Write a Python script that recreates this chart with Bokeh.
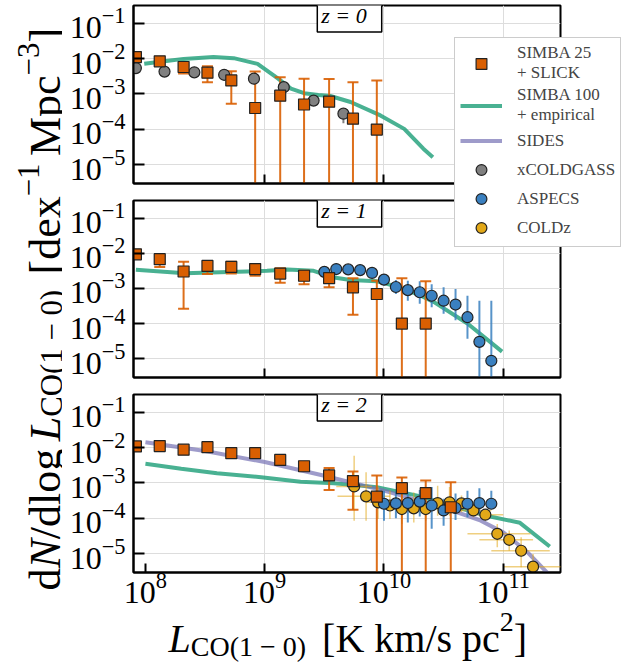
import math
from bokeh.plotting import figure
from bokeh.layouts import column, row
from bokeh.models import (Range1d, FixedTicker, Legend, LegendItem, Label, ColumnDataSource,
                          CustomJSTickFormatter)
from bokeh.core.properties import value
from bokeh.embed import file_html
from bokeh.resources import INLINE

SERIF = "Liberation Serif"

# ------------------------------------------------------------------
# Data (log10 values)
# None in a "lo" list = error bar reaching zero; None in "hi" = no bar
# ------------------------------------------------------------------
Y_TICK_EXP = [-5, -4, -3, -2, -1]
X_TICK_EXP = [8, 9, 10, 11]
PANEL_TITLES = ["z = 0", "z = 1", "z = 2"]

# SIMBA 25 + SLICK (squares)
s25_logL = [7.92, 8.12, 8.32, 8.52, 8.72, 8.92, 9.13, 9.33, 9.54, 9.74, 9.94, 10.15, 10.35, 10.56]
s25_z0 = [-1.96, -2.08, -2.24, -2.40, -2.62, -3.40, -3.05, -3.30, -3.22, -3.70, -4.01]
s25_z0_hi = [None, None, -2.20, -2.22, -2.36, -2.37, -2.53, -2.57, -2.58, -2.67, -2.62]
s25_z0_lo = [None, None, -2.42, -2.67, -3.28, None, None, None, None, None, None]
s25_z1 = [-2.03, -2.17, -2.52, -2.36, -2.39, -2.45, -2.58, -2.64, -2.71, -2.97, -3.16, -4.00, -4.00]
s25_z1_hi = [None, -2.09, -2.24, -2.22, -2.24, -2.33, -2.43, -2.50, -2.58, -2.71, -2.78, -2.71, -2.80]
s25_z1_lo = [None, -2.39, -3.58, -2.59, -2.58, -2.64, -2.84, -2.88, -2.97, -3.75, None, None, None]
s25_z2 = [-1.97, -1.96, -2.06, -1.99, -2.16, -2.16, -2.35, -2.53, -2.79, -2.95, -3.39, -3.15, -3.29, -3.69]
s25_z2_hi = [None, None, None, None, None, None, None, None, -2.58, -2.68, -2.79, -2.85, -2.93, -2.98]
s25_z2_lo = [None, None, None, None, None, None, None, None, -3.20, -3.76, None, None, None, None]

# SIMBA 100 + empirical (green line)
g_z0_logL = [7.99, 8.16, 8.32, 8.57, 8.74, 8.94, 9.11, 9.22, 9.33, 9.45, 9.55, 9.72, 9.97, 10.17, 10.33, 10.41]
g_z0 = [-2.15, -2.08, -2.01, -1.96, -1.99, -2.15, -2.56, -2.85, -2.98, -3.03, -3.06, -3.23, -3.61, -3.99, -4.55, -4.79]
g_z1_logL = [7.92, 8.33, 8.55, 9.02, 9.19, 9.41, 9.58, 9.72, 9.94, 10.08, 10.28, 10.42, 10.70, 10.99]
g_z1 = [-2.47, -2.57, -2.55, -2.50, -2.46, -2.50, -2.69, -2.76, -2.80, -2.92, -3.16, -3.39, -4.00, -4.80]
g_z2_logL = [8.00, 8.30, 8.60, 8.97, 9.30, 9.58, 9.94, 10.28, 10.56, 10.86, 11.14, 11.39]
g_z2 = [-2.46, -2.60, -2.73, -2.84, -2.97, -3.01, -3.12, -3.36, -3.64, -3.93, -4.13, -4.80]

# SIDES (purple line, z=2)
sides_logL = [8.0, 8.5, 9.0, 9.5, 10.0, 10.5, 10.8, 11.0, 11.2, 11.4]
sides_z2 = [-1.85, -2.10, -2.41, -2.80, -3.22, -3.70, -4.05, -4.40, -4.95, -5.65]

# xCOLDGASS (grey, z=0)
xcg_logL = [7.92, 8.16, 8.41, 8.66, 8.91, 9.16, 9.41, 9.66]
xcg_z0 = [-2.27, -2.37, -2.39, -2.46, -2.57, -2.81, -3.19, -3.56]
xcg_hi = [None, None, None, None, None, None, None, -3.48]
xcg_lo = [None, None, None, None, None, None, None, -3.83]

# ASPECS (blue)
asp_z1_logL = [9.50, 9.60, 9.70, 9.80, 9.90, 10.0, 10.1, 10.2, 10.3, 10.4, 10.5, 10.6, 10.7, 10.8, 10.9]
asp_z1 = [-2.53, -2.45, -2.46, -2.48, -2.56, -2.75, -2.96, -3.05, -3.11, -3.21, -3.35, -3.46, -3.82, -4.52, -5.06]
asp_z1_hi = [-2.48, -2.40, -2.41, -2.43, -2.50, -2.59, -2.76, -2.78, -2.80, -2.88, -2.97, -3.02, -3.21, -3.35, -3.35]
asp_z1_lo = [-2.58, -2.50, -2.51, -2.53, -2.63, -2.92, -3.16, -3.35, -3.44, -3.54, -3.72, -3.91, -4.43, None, None]
asp_z2_logL = [10.0, 10.1, 10.2, 10.3, 10.4, 10.5, 10.6, 10.7, 10.8, 10.9]
asp_z2 = [-3.59, -3.58, -3.57, -3.53, -3.64, -3.78, -3.71, -3.59, -3.57, -3.59]
asp_z2_hi = [-3.22, -3.25, -3.27, -3.20, -3.12, -3.45, -3.30, -3.22, -3.15, -3.22]
asp_z2_lo = [-4.07, -4.00, -4.12, -3.95, -4.30, -4.21, -4.05, -3.97, -3.90, -3.69]

# COLDz (gold, z=2)
cz_logL = [9.75, 9.85, 9.95, 10.05, 10.15, 10.25, 10.35, 10.45, 10.55, 10.65, 10.75, 10.85, 10.95, 11.05, 11.15, 11.25]
cz_z2 = [-3.10, -3.38, -3.55, -3.64, -3.74, -3.72, -3.74, -3.57, -3.55, -3.58, -3.78, -3.90, -4.44, -4.61, -4.92, -5.37]
cz_hi = [-2.23, -2.70, -3.12, -3.22, -3.22, -3.27, -3.36, -3.08, -3.12, -3.36, -3.59, -3.78, -4.16, -4.35, -4.54, -5.01]
cz_lo = [-4.07, -4.07, -4.02, -4.02, -4.16, -4.12, -4.07, -3.93, -3.93, -3.83, -3.97, -4.07, -4.82, -4.92, -5.39, -5.77]
cz_xlo = [9.60, 9.61, 9.85, 9.95, 10.05, 10.15, 10.25, 10.35, 10.45, 10.55, 10.62, 10.72, 10.70, 10.80, 10.90, 11.00]
cz_xhi = [9.90, 10.05, 10.05, 10.15, 10.25, 10.35, 10.45, 10.55, 10.65, 10.80, 10.90, 11.00, 11.23, 11.25, 11.39, 11.49]

LEGEND_LABELS = ["SIMBA 25\n+ SLICK", "SIMBA 100\n+ empirical", "SIDES", "xCOLDGASS", "ASPECS", "COLDz"]

ORANGE = "#d95f02"
GREEN = "#1b9e77"
PURPLE = "#7570b3"
GREY = "#808080"
BLUE = "#3a80c0"
GOLD = "#e2a818"

X_LO, X_HI = 7.9, 11.48
Y_LO, Y_HI = -5.535, -0.5

# layout (pixels)
YL_W = 62          # y-label strip
B_LEFT, B_RIGHT = 71, 71
FRAME_W = 427
FIG_W = B_LEFT + FRAME_W + B_RIGHT
TOTAL_H = 664
XL_TOP, XL_H = 608, 56     # x-label strip, laid over the bottom border of panel 3
XL_BASELINE = 638          # page y of the x-label baseline


def lin(v):
    return [10.0 ** a for a in v]


def errbars(p, x, hi, lo, color, alpha, width, caps=False):
    xs, y0, y1, cx, cy = [], [], [], [], []
    for xv, h, l in zip(x, hi, lo):
        if h is None:
            continue
        xs.append(10.0 ** xv)
        y1.append(10.0 ** h)
        y0.append(1e-9 if l is None else 10.0 ** l)
        cx.append(10.0 ** xv); cy.append(10.0 ** h)
        if l is not None:
            cx.append(10.0 ** xv); cy.append(10.0 ** l)
    if xs:
        p.segment(x0=xs, x1=xs, y0=y0, y1=y1, line_color=color, line_alpha=alpha, line_width=width)
        if caps:
            p.scatter(x=cx, y=cy, marker="dash", size=11, line_color=color, line_alpha=alpha, line_width=width)


def panel(frame_h, b_top, b_bot, xticks, show_xlabels):
    p = figure(width=FIG_W, height=b_top + frame_h + b_bot, x_axis_type="log", y_axis_type="log",
               x_range=Range1d(10 ** X_LO, 10 ** X_HI), y_range=Range1d(10 ** Y_LO, 10 ** Y_HI),
               min_border_left=B_LEFT, min_border_right=B_RIGHT, min_border_top=b_top, min_border_bottom=b_bot,
               output_backend="svg", toolbar_location=None)
    p.outline_line_color = "black"
    p.outline_line_width = 2
    p.outline_line_alpha = 1
    p.background_fill_color = "white"
    p.border_fill_color = "white"
    for ax in (p.xaxis[0], p.yaxis[0]):
        ax.axis_line_width = 2
        ax.major_tick_line_width = 2
        ax.major_tick_out = 0
        ax.minor_tick_in = 0
        ax.minor_tick_out = 0
        ax.major_label_text_font = SERIF
        ax.major_label_text_color = "black"
    p.yaxis.ticker = FixedTicker(ticks=[10.0 ** e for e in Y_TICK_EXP])
    p.yaxis.major_tick_in = 11
    p.yaxis.major_label_text_font_size = "32px"
    p.yaxis.major_label_standoff = 8
    p.xaxis.ticker = FixedTicker(ticks=[10.0 ** e for e in xticks])
    p.xaxis.major_tick_in = 9
    p.xaxis.major_label_text_font_size = "32px"
    p.xaxis.major_label_standoff = 0
    if not show_xlabels:
        p.xaxis.formatter = CustomJSTickFormatter(code="return ''")
    p.xgrid.ticker = FixedTicker(ticks=[10.0 ** e for e in X_TICK_EXP[1:]])
    p.ygrid.ticker = FixedTicker(ticks=[10.0 ** e for e in Y_TICK_EXP])
    p.grid.grid_line_color = "#dddddd"
    p.grid.grid_line_width = 1
    return p


def zlabel(p, txt, frame_h):
    p.add_layout(Label(x=216, y=frame_h - 10, x_units="screen", y_units="screen", text=" " + txt + " ",
                       text_align="center", text_baseline="middle", text_font=SERIF,
                       text_font_style="italic", text_font_size="22px", text_color="black",
                       border_line_color="black", border_line_width=1.5, background_fill_color="white",
                       background_fill_alpha=1, padding=4))


def draw(p, green_x, green_y, s25_y, s25_hi, s25_lo, sides=None, xcg=False, asp=None, cz=False):
    p.line(lin(green_x), lin(green_y), line_color=GREEN, line_alpha=0.8, line_width=4)
    if sides:
        p.line(lin(sides[0]), lin(sides[1]), line_color=PURPLE, line_alpha=0.7, line_width=4)
    if cz:
        p.segment(x0=lin(cz_xlo), x1=lin(cz_xhi), y0=lin(cz_z2), y1=lin(cz_z2),
                  line_color=GOLD, line_alpha=0.55, line_width=1.5)
        errbars(p, cz_logL, cz_hi, cz_lo, GOLD, 0.55, 1.5)
    if asp:
        errbars(p, asp[0], asp[2], asp[3], BLUE, 0.85, 2)
    if xcg:
        errbars(p, xcg_logL, xcg_hi, xcg_lo, GREY, 1.0, 2)
    n = len(s25_y)
    errbars(p, s25_logL[:n], s25_hi, s25_lo, ORANGE, 0.9, 2, caps=True)
    if xcg:
        p.scatter(lin(xcg_logL), lin(xcg_z0), marker="circle", size=11, fill_color=GREY,
                  line_color="#222222", line_width=1.2)
    if cz:
        p.scatter(lin(cz_logL), lin(cz_z2), marker="circle", size=11, fill_color=GOLD,
                  line_color="#222222", line_width=1.2)
    if asp:
        p.scatter(lin(asp[0]), lin(asp[1]), marker="circle", size=11, fill_color=BLUE,
                  line_color="#222222", line_width=1.2)
    p.scatter(lin(s25_logL[:n]), lin(s25_y), marker="square", size=11, fill_color=ORANGE,
              line_color="#222222", line_width=1.2)


# ---------------- panels ----------------
p1 = panel(178, 5, 8, X_TICK_EXP[1:], False)
draw(p1, g_z0_logL, g_z0, s25_z0, s25_z0_hi, s25_z0_lo, xcg=True)
zlabel(p1, PANEL_TITLES[0], 178)

p2 = panel(177, 9, 8, X_TICK_EXP[1:], False)
draw(p2, g_z1_logL, g_z1, s25_z1, s25_z1_hi, s25_z1_lo,
     asp=(asp_z1_logL, asp_z1, asp_z1_hi, asp_z1_lo))
zlabel(p2, PANEL_TITLES[1], 177)

H_TOP2 = (5 + 178 + 8) + (9 + 177 + 8)
P3_BOT = TOTAL_H - H_TOP2 - 9 - 178
p3 = panel(178, 9, P3_BOT, X_TICK_EXP, True)
draw(p3, g_z2_logL, g_z2, s25_z2, s25_z2_hi, s25_z2_lo, sides=(sides_logL, sides_z2),
     asp=(asp_z2_logL, asp_z2, asp_z2_hi, asp_z2_lo), cz=True)
zlabel(p3, PANEL_TITLES[2], 178)

# ---------------- text layout helpers ----------------
W_REG = {' ': 250, '(': 333, ')': 333, '[': 333, ']': 333, '/': 278, '\u2212': 564, '0': 500, '1': 500,
         '2': 500, '3': 500, 'C': 667, 'O': 722, 'K': 722, 'M': 889, 'd': 500, 'e': 444, 'g': 500,
         'k': 500, 'l': 278, 'm': 778, 'o': 500, 'p': 500, 's': 389, 'x': 500, 'c': 444}
W_IT = {'L': 556, 'N': 667, 'z': 389}


def tw(s, italic, size):
    tab = W_IT if italic else W_REG
    return sum(tab.get(ch, 500) for ch in s) / 1000.0 * size


def strip(w, h, transparent=False):
    f = figure(width=w, height=h, x_range=Range1d(0, w), y_range=Range1d(0, h), min_border=0,
               x_axis_location=None, y_axis_location=None, output_backend="svg", toolbar_location=None)
    f.grid.visible = False
    f.outline_line_color = None
    if transparent:
        f.border_fill_alpha = 0
        f.background_fill_alpha = 0
    else:
        f.border_fill_color = "white"
        f.background_fill_color = "white"
    return f


def place(pieces, F, start, base, along_y):
    cols = dict(x=[], y=[], text=[], size=[], style=[])
    pos = start
    for pc in pieces:
        if len(pc) == 1:
            pos += pc[0] * F
            continue
        txt, it, sc, sh = pc
        size = F * sc
        if along_y:
            cols["x"].append(base - sh * F)
            cols["y"].append(pos)
        else:
            cols["x"].append(pos)
            cols["y"].append(base + sh * F)
        cols["text"].append(txt)
        cols["size"].append(f"{size:.1f}px")
        cols["style"].append("italic" if it else "normal")
        pos += tw(txt, it, size)
    return ColumnDataSource(cols)


# ---------------- x axis label (transparent strip laid over panel 3's bottom border) ----------------
XL_X0 = 150
xl = strip(400, XL_H, transparent=True)
FX = 40
x_pieces = [("L", True, 1.0, 0.0), ("CO(1 \u2212 0)", False, 0.7, -0.2), (0.4,),
            ("[K km/s pc", False, 1.0, 0.0), ("2", False, 0.7, 0.42), ("]", False, 1.0, 0.0)]
xl.text(x="x", y="y", text="text",
        source=place(x_pieces, FX, 168 - XL_X0, XL_TOP + XL_H - XL_BASELINE, False),
        text_font=value(SERIF), text_font_size="size", text_font_style="style",
        text_align="left", text_baseline="alphabetic", text_color="black")
xl.styles = {"position": "absolute", "left": f"{XL_X0}px", "top": f"{XL_TOP}px", "z-index": "5"}

# ---------------- y axis label (strip left of the panels) ----------------
yl = strip(YL_W, TOTAL_H)
FY = 44
y_pieces = [("d", False, 1.0, 0.0), ("N", True, 1.0, 0.0), ("/dlog", False, 1.0, 0.0), (0.17,),
            ("L", True, 1.0, 0.0), ("CO(1 \u2212 0)", False, 0.7, -0.15), (0.35,),
            ("[dex", False, 1.0, 0.0), ("\u22121", False, 0.7, 0.38), (0.17,),
            ("Mpc", False, 1.0, 0.0), ("\u22123", False, 0.7, 0.38), ("]", False, 1.0, 0.0)]
yl.text(x="x", y="y", text="text", source=place(y_pieces, FY, TOTAL_H - 590, 45, True), angle=math.pi / 2,
        text_font=value(SERIF), text_font_size="size", text_font_style="style",
        text_align="left", text_baseline="alphabetic", text_color="black")

# ---------------- legend (own small figure laid over panels 1-2) ----------------
lf = figure(width=177, height=214, x_range=Range1d(0, 1), y_range=Range1d(0, 1), min_border=0,
            x_axis_location=None, y_axis_location=None, output_backend="svg", toolbar_location=None)
lf.grid.visible = False
lf.outline_line_color = None
lf.background_fill_alpha = 0
lf.border_fill_alpha = 0
OFF = [5.0]  # a point outside the legend figure's range: keeps the legend glyphs but draws nothing
lr = [
    lf.scatter(OFF, OFF, marker="square", size=11, fill_color=ORANGE, line_color="#222222", line_width=1.2),
    lf.line(OFF, OFF, line_color=GREEN, line_alpha=0.8, line_width=4),
    lf.line(OFF, OFF, line_color=PURPLE, line_alpha=0.7, line_width=4),
    lf.scatter(OFF, OFF, marker="circle", size=11, fill_color=GREY, line_color="#222222", line_width=1.2),
    lf.scatter(OFF, OFF, marker="circle", size=11, fill_color=BLUE, line_color="#222222", line_width=1.2),
    lf.scatter(OFF, OFF, marker="circle", size=11, fill_color=GOLD, line_color="#222222", line_width=1.2),
]
leg = Legend(items=[LegendItem(label=t, renderers=[r]) for t, r in zip(LEGEND_LABELS, lr)],
             location="top_left", label_text_font=SERIF, label_text_font_size="17px",
             label_text_line_height=1.3, label_height=27, glyph_height=27, glyph_width=42,
             label_standoff=15, spacing=2, padding=5, margin=0,
             border_line_color="#cccccc", border_line_width=1, border_line_alpha=1,
             background_fill_color="white", background_fill_alpha=1)
lf.add_layout(leg)
lf.styles = {"position": "absolute", "left": "454px", "top": "37px", "z-index": "10"}

layout = row(yl, column(p1, p2, p3), lf, xl)
open("out.html", "w").write(file_html(layout, INLINE))
